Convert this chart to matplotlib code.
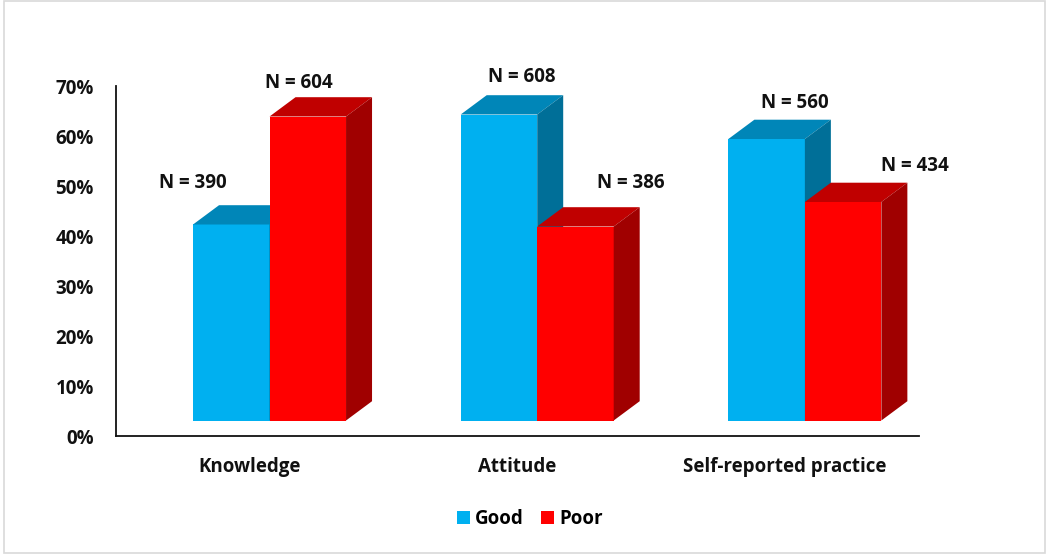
import matplotlib
matplotlib.use("Agg")
import matplotlib.pyplot as plt
from matplotlib.patches import Polygon, Rectangle, Patch

# ---- data ----
categories = ["Knowledge", "Attitude", "Self-reported practice"]
series_names = ["Good", "Poor"]
good_pct = [39.2, 61.2, 56.3]
poor_pct = [60.8, 38.8, 43.7]
good_n = [390, 608, 560]
poor_n = [604, 386, 434]
y_ticks = [0, 10, 20, 30, 40, 50, 60, 70]

# ---- style ----
front_cols = {"Good": "#00B0F0", "Poor": "#FF0000"}
top_cols = {"Good": "#0086B8", "Poor": "#C00000"}
side_cols = {"Good": "#006F98", "Poor": "#A00000"}
# manual label offsets in pixels (from front-top centre of each bar)
label_offsets = {
    "Good": [(-38, 41), (23, 37), (28, 36)],
    "Poor": [(-9, 34), (55, 43), (72, 36)],
}

FONT = ["Open Sans", "DejaVu Sans"]
FS = 13.5
plt.rcParams["font.family"] = FONT
plt.rcParams["font.weight"] = "bold"

W, H = 1046, 554
fig = plt.figure(figsize=(W / 100, H / 100), dpi=100)
fig.patch.set_facecolor("white")
fig.patches.append(Rectangle((4 / W, 1 / H), 1041 / W, 552 / H, transform=fig.transFigure,
                             fill=False, edgecolor="#D9D9D9", linewidth=1.2))

ax_l, ax_r, ax_b, ax_t = 116, 919, 436, 86
ax = fig.add_axes([ax_l / W, 1 - ax_b / H, (ax_r - ax_l) / W, (ax_b - ax_t) / H])
ax.set_xlim(-0.5, 2.5)
ax.set_ylim(0, 70)

px_x = (ax_r - ax_l) / 3.0       # pixels per x unit
px_y = (ax_b - ax_t) / 70.0      # pixels per percent

bar_w = 76.5 / px_x
shift = 19.7 / px_x
depth_x = 26 / px_x
depth_y = 19.3 / px_y
base = 15.5 / px_y

for ci in range(len(categories)):
    for si, name in enumerate(series_names):
        vals = good_pct if name == "Good" else poor_pct
        ns = good_n if name == "Good" else poor_n
        v = vals[ci]
        x0 = ci - bar_w + shift + si * bar_w
        x1 = x0 + bar_w
        y0 = base
        y1 = base + v
        front = Polygon([(x0, y0), (x1, y0), (x1, y1), (x0, y1)], closed=True,
                        facecolor=front_cols[name], edgecolor="none", clip_on=False, zorder=3)
        top = Polygon([(x0, y1), (x1, y1), (x1 + depth_x, y1 + depth_y), (x0 + depth_x, y1 + depth_y)],
                      closed=True, facecolor=top_cols[name], edgecolor="none", clip_on=False, zorder=3)
        side = Polygon([(x1, y0), (x1 + depth_x, y0 + depth_y), (x1 + depth_x, y1 + depth_y), (x1, y1)],
                       closed=True, facecolor=side_cols[name], edgecolor="none", clip_on=False, zorder=3)
        for p in (front, top, side):
            ax.add_patch(p)
        dx, dy = label_offsets[name][ci]
        ax.annotate(f"N = {ns[ci]}", xy=((x0 + x1) / 2, y1), xytext=(dx, dy),
                    textcoords="offset pixels", ha="center", va="center",
                    fontsize=FS, fontweight="bold", color="#111111", zorder=5)

for s in ("top", "right"):
    ax.spines[s].set_visible(False)
for s in ("left", "bottom"):
    ax.spines[s].set_linewidth(1.3)
    ax.spines[s].set_color("#111111")

ax.set_yticks(y_ticks)
ax.set_yticklabels([f"{t}%" for t in y_ticks])
ax.set_xticks(range(len(categories)))
ax.set_xticklabels(categories)
ax.tick_params(axis="y", length=0, pad=16, labelsize=FS, labelcolor="#111111")
ax.tick_params(axis="x", length=0, pad=15, labelsize=FS, labelcolor="#111111")
for lab in ax.get_xticklabels() + ax.get_yticklabels():
    lab.set_fontweight("bold")

handles = [Patch(facecolor=front_cols[n], edgecolor="none", label=n) for n in series_names]
fig.legend(handles=handles, loc="center", bbox_to_anchor=(530 / W, 1 - 519 / H), ncol=2,
           frameon=False, handlelength=0.7, handleheight=0.7, handletextpad=0.3,
           columnspacing=0.9, prop={"family": FONT, "weight": "bold", "size": FS})

fig.savefig("out.png", dpi=100, facecolor="white")
